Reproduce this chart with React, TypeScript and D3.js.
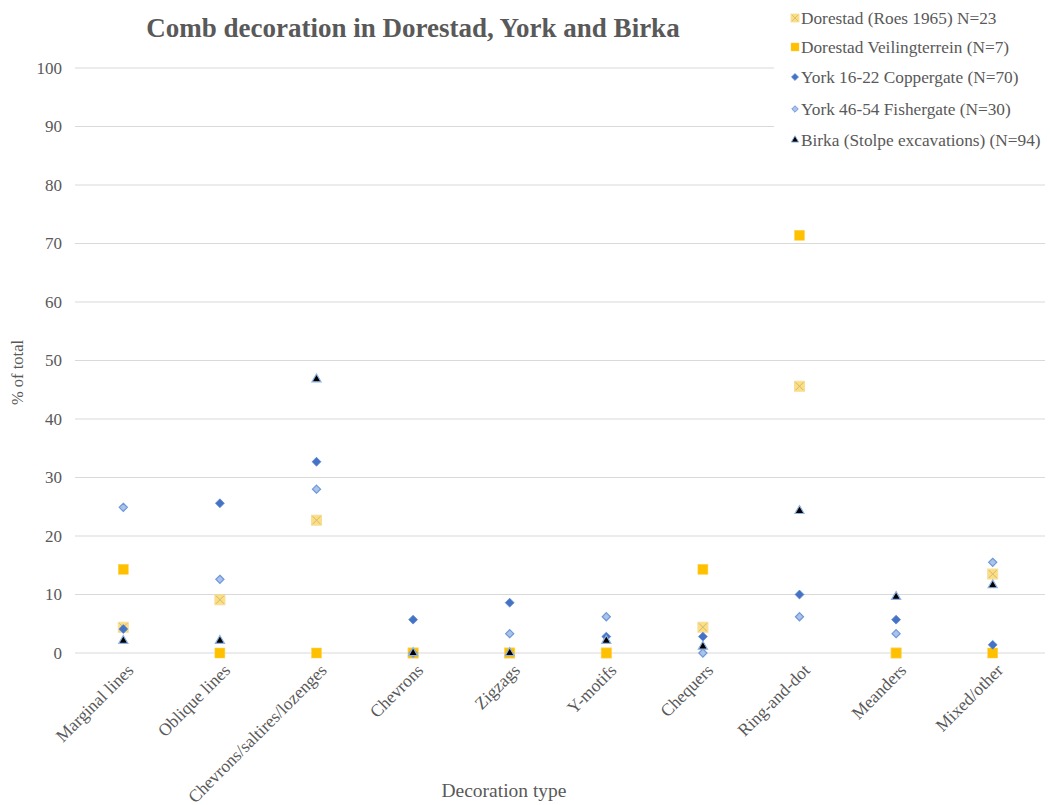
import React from 'react';
import * as d3 from 'd3';

const categories = [
  'Marginal lines',
  'Oblique lines',
  'Chevrons/saltires/lozenges',
  'Chevrons',
  'Zigzags',
  'Y-motifs',
  'Chequers',
  'Ring-and-dot',
  'Meanders',
  'Mixed/other',
];

const seriesNames = [
  'Dorestad (Roes 1965) N=23',
  'Dorestad Veilingterrein (N=7)',
  'York 16-22 Coppergate (N=70)',
  'York 46-54 Fishergate (N=30)',
  'Birka (Stolpe excavations) (N=94)',
];

const roes = [4.4, 9.1, 22.7, 0, 0, 0, 4.4, 45.6, 0, 13.5];
const veiling = [14.3, 0, 0, 0, 0, 0, 14.3, 71.4, 0, 0];
const coppergate = [4.1, 25.6, 32.7, 5.7, 8.6, 2.8, 2.8, 10.0, 5.7, 1.4];
const fishergate = [24.9, 12.6, 28.0, 0, 3.3, 6.2, 0, 6.2, 3.3, 15.5];
const birka = [2.1, 2.1, 46.8, 0, 0, 2.1, 1.1, 24.3, 9.6, 11.6];

const yTicks = [0, 10, 20, 30, 40, 50, 60, 70, 80, 90, 100];

const W = 1050;
const H = 805;
const plot = { left: 75, right: 1041, top: 68, bottom: 653 };
const textColor = '#595959';
const font = 'Liberation Serif, serif';

type Marker = 'xsquare' | 'square' | 'diamond' | 'odiamond' | 'triangle';

const styles: { marker: Marker }[] = [
  { marker: 'xsquare' },
  { marker: 'square' },
  { marker: 'diamond' },
  { marker: 'odiamond' },
  { marker: 'triangle' },
];

const Mark: React.FC<{ kind: Marker; x: number; y: number; s?: number }> = ({ kind, x, y, s = 1 }) => {
  const t = `translate(${x},${y}) scale(${s})`;
  if (kind === 'xsquare') {
    return (
      <g transform={t}>
        <rect x={-5} y={-5} width={10} height={10} fill="#FFD966" opacity={0.85} stroke="#F5D98B" strokeWidth={1} />
        <path d="M-4,-4L4,4M4,-4L-4,4" stroke="#C9B98A" strokeWidth={1} />
      </g>
    );
  }
  if (kind === 'square') {
    return <rect transform={t} x={-5} y={-5} width={10} height={10} fill="#FFC000" stroke="#FFD24D" strokeWidth={0.5} />;
  }
  if (kind === 'diamond') {
    return <path transform={t} d={d3.symbol(d3.symbolDiamond2, 50)()!} fill="#4472C4" stroke="#5B87D2" strokeWidth={0.8} />;
  }
  if (kind === 'odiamond') {
    return <path transform={t} d={d3.symbol(d3.symbolDiamond2, 42)()!} fill="#A9C4EB" stroke="#6E97D9" strokeWidth={1.2} />;
  }
  return <path transform={t} d={d3.symbol(d3.symbolTriangle, 36)()!} fill="#000000" stroke="#8FB4E3" strokeWidth={1.2} />;
};

export default function App() {
  const x = d3.scaleBand().domain(categories).range([plot.left, plot.right]);
  const y = d3.scaleLinear().domain([0, 100]).range([plot.bottom, plot.top]);
  const all = [roes, veiling, coppergate, fishergate, birka];
  const legendX = 795;
  const legendY = [18, 47, 77, 109, 140];

  return (
    <svg width={W} height={H} style={{ position: 'absolute', left: 0, top: 0, background: '#fff', fontFamily: font }}>
      <rect width={W} height={H} fill="#fff" />
      {yTicks.map((t) => (
        <g key={t}>
          <line
            x1={plot.left}
            x2={t >= 90 ? 774 : plot.right + 4}
            y1={y(t)}
            y2={y(t)}
            stroke="#D9D9D9"
            strokeWidth={1}
          />
          <text x={62} y={y(t)} dy="0.35em" textAnchor="end" fontSize={17} fill={textColor}>
            {t}
          </text>
        </g>
      ))}
      {categories.map((c) => {
        const cx = x(c)! + x.bandwidth() / 2;
        return (
          <text
            key={c}
            transform={`translate(${cx + 7},${plot.bottom + 14}) rotate(-45)`}
            textAnchor="end"
            dy="0.35em"
            fontSize={17.5}
            fill={textColor}
          >
            {c}
          </text>
        );
      })}
      {all.map((vals, si) =>
        vals.map((v, i) => (
          <Mark key={`${si}-${i}`} kind={styles[si].marker} x={x(categories[i])! + x.bandwidth() / 2} y={y(v)} />
        ))
      )}
      <text x={413} y={37} textAnchor="middle" fontSize={27} fontWeight="bold" fill={textColor}>
        Comb decoration in Dorestad, York and Birka
      </text>
      <text transform={`translate(23,${(plot.top + plot.bottom) / 2 + 12}) rotate(-90)`} textAnchor="middle" fontSize={16.5} fill={textColor}>
        % of total
      </text>
      <text x={504} y={797} textAnchor="middle" fontSize={19.5} fill={textColor}>
        Decoration type
      </text>
      {seriesNames.map((n, i) => (
        <g key={n}>
          <Mark kind={styles[i].marker} x={legendX} y={legendY[i]} s={0.8} />
          <text x={legendX + 6} y={legendY[i]} dy="0.35em" fontSize={17.3} fill={textColor}>
            {n}
          </text>
        </g>
      ))}
    </svg>
  );
}
